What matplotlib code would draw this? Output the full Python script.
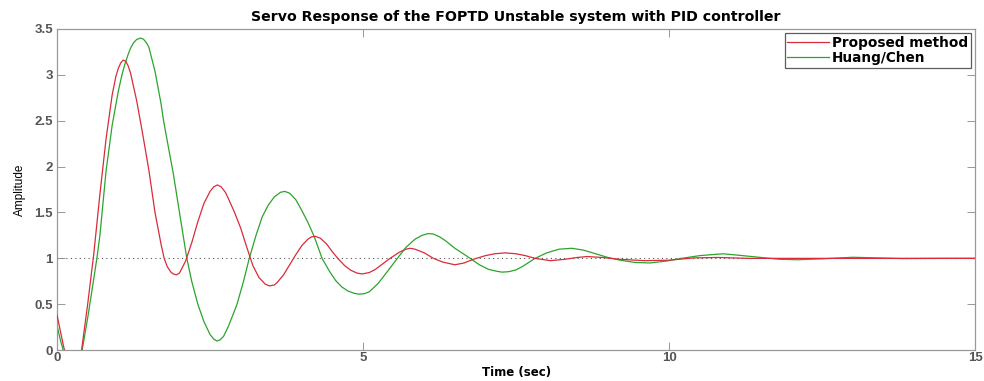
import numpy as np
import matplotlib
matplotlib.use('Agg')
import matplotlib.pyplot as plt

plt.rcParams['font.family'] = ['Liberation Sans', 'DejaVu Sans']

# Proposed method (red)
t_prop = [0.0, 0.05, 0.1, 0.15, 0.2, 0.25, 0.3, 0.35, 0.4, 0.5, 0.6, 0.7, 0.8, 0.9, 0.96,
          1.0, 1.04, 1.08, 1.12, 1.16, 1.2, 1.3, 1.4, 1.5, 1.6, 1.7, 1.75, 1.8, 1.86, 1.9,
          1.95, 2.0, 2.1, 2.2, 2.3, 2.4, 2.5, 2.56, 2.62, 2.68, 2.75, 2.8, 2.9, 3.0, 3.1,
          3.2, 3.3, 3.4, 3.47, 3.55, 3.6, 3.7, 3.8, 3.9, 4.0, 4.1, 4.16, 4.22, 4.3, 4.4,
          4.5, 4.6, 4.7, 4.8, 4.9, 4.98, 5.1, 5.2, 5.3, 5.44, 5.6, 5.7, 5.77, 5.85, 6.0,
          6.15, 6.3, 6.5, 6.65, 6.8, 7.0, 7.15, 7.32, 7.5, 7.65, 7.81, 8.06, 8.3, 8.5,
          8.66, 8.9, 9.2, 9.6, 10.0, 10.4, 10.8, 11.3, 12.0, 13.0, 14.0, 15.0]
y_prop = [0.38, 0.22, 0.06, -0.08, -0.18, -0.22, -0.2, -0.12, 0.0, 0.5, 1.05, 1.7, 2.3, 2.78, 2.98,
          3.07, 3.13, 3.16, 3.15, 3.1, 3.02, 2.72, 2.35, 1.96, 1.5, 1.15, 1.0, 0.91, 0.85, 0.83,
          0.82, 0.84, 0.97, 1.17, 1.4, 1.6, 1.73, 1.78, 1.8, 1.78, 1.72, 1.65, 1.5, 1.33, 1.12,
          0.92, 0.79, 0.72, 0.7, 0.71, 0.74, 0.82, 0.93, 1.04, 1.14, 1.21, 1.235, 1.24, 1.22, 1.16,
          1.07, 0.99, 0.92, 0.87, 0.84, 0.83, 0.845, 0.88, 0.93, 1.0, 1.07, 1.1, 1.11, 1.1, 1.06,
          1.0, 0.96, 0.93, 0.95, 0.99, 1.03, 1.05, 1.06, 1.05, 1.03, 1.0, 0.975, 0.99, 1.01,
          1.02, 1.01, 0.99, 0.975, 0.98, 1.005, 1.01, 1.0, 1.0, 1.0, 1.0, 1.0]

# Huang/Chen (green)
t_hc = [0.0, 0.05, 0.1, 0.15, 0.2, 0.25, 0.3, 0.35, 0.41, 0.5, 0.6, 0.65, 0.7, 0.8, 0.9,
        1.0, 1.06, 1.1, 1.16, 1.2, 1.25, 1.3, 1.36, 1.41, 1.46, 1.5, 1.6, 1.7, 1.74, 1.8,
        1.9, 2.0, 2.12, 2.2, 2.3, 2.4, 2.5, 2.56, 2.61, 2.66, 2.72, 2.8, 2.94, 3.05, 3.14,
        3.25, 3.35, 3.45, 3.55, 3.65, 3.72, 3.8, 3.9, 4.0, 4.1, 4.2, 4.33, 4.45, 4.55, 4.65,
        4.75, 4.85, 4.93, 5.02, 5.1, 5.25, 5.4, 5.56, 5.7, 5.85, 5.96, 6.06, 6.15, 6.25, 6.35,
        6.5, 6.75, 6.9, 7.05, 7.18, 7.27, 7.38, 7.5, 7.6, 7.81, 8.0, 8.2, 8.41, 8.6, 8.8,
        9.0, 9.2, 9.45, 9.69, 9.95, 10.2, 10.5, 10.88, 11.2, 11.5, 11.8, 12.1, 12.5, 13.0,
        13.4, 13.8, 14.5, 15.0]
y_hc = [0.27, 0.12, 0.0, -0.1, -0.17, -0.2, -0.18, -0.1, 0.0, 0.35, 0.78, 1.0, 1.25, 1.95, 2.45,
        2.82, 3.0, 3.1, 3.22, 3.29, 3.35, 3.385, 3.4, 3.39, 3.35, 3.3, 3.04, 2.68, 2.5, 2.28,
        1.92, 1.5, 1.0, 0.75, 0.5, 0.31, 0.17, 0.12, 0.1, 0.11, 0.15, 0.26, 0.5, 0.76, 1.0,
        1.25, 1.45, 1.58, 1.67, 1.72, 1.73, 1.71, 1.64, 1.52, 1.39, 1.24, 1.0, 0.86, 0.76, 0.69,
        0.645, 0.62, 0.61, 0.615, 0.635, 0.73, 0.86, 1.0, 1.12, 1.21, 1.25, 1.27, 1.265, 1.235, 1.19,
        1.11, 1.0, 0.93, 0.88, 0.86, 0.85, 0.855, 0.875, 0.91, 1.0, 1.06, 1.1, 1.11, 1.09, 1.05,
        1.01, 0.98, 0.955, 0.95, 0.97, 1.0, 1.03, 1.05, 1.03, 1.01, 0.99, 0.985, 0.995, 1.012,
        1.005, 0.998, 1.0, 1.0]

x_ticks = [0, 5, 10, 15]
y_ticks = [0, 0.5, 1, 1.5, 2, 2.5, 3, 3.5]
y_tick_labels = ['0', '0.5', '1', '1.5', '2', '2.5', '3', '3.5']

fig = plt.figure(figsize=(9.84, 3.81), dpi=100)
ax = fig.add_axes([0.058, 0.081, 0.933, 0.843])

ax.plot([0, 15], [1, 1], color='#555555', linestyle=(0, (1, 3)), linewidth=0.8, zorder=1)
ax.plot(t_prop, y_prop, color='#d92b3a', linewidth=0.9, label='Proposed method', zorder=3)
ax.plot(t_hc, y_hc, color='#2aa52a', linewidth=0.9, label='Huang/Chen', zorder=2)

ax.set_xlim(0, 15)
ax.set_ylim(0, 3.5)
ax.set_xticks(x_ticks)
ax.set_yticks(y_ticks)
ax.set_yticklabels(y_tick_labels)
ax.tick_params(direction='in', length=5.5, width=0.6, color='#888888',
               top=True, right=True, labelsize=9.5, labelcolor='#555555')
ax.tick_params(axis='x', pad=1.5)
ax.tick_params(axis='y', pad=3)
for lab in ax.get_xticklabels() + ax.get_yticklabels():
    lab.set_fontweight('bold')
for sp in ax.spines.values():
    sp.set_color('#999999')
    sp.set_linewidth(0.9)

ax.set_title('Servo Response of the FOPTD Unstable system with PID controller',
             fontsize=10.2, fontweight='bold', family='DejaVu Sans', pad=6)
ax.set_xlabel('Time (sec)', fontsize=8.5, fontweight='bold', family='DejaVu Sans', labelpad=1)
ax.set_ylabel('Amplitude', fontsize=8.5, labelpad=6)

leg = ax.legend(loc='upper right', prop={'weight': 'bold', 'size': 9.8, 'family': 'DejaVu Sans'},
                frameon=True, fancybox=False, handlelength=3.1, handletextpad=0.2,
                borderpad=0.2, labelspacing=0.1, borderaxespad=0.3)
leg.get_frame().set_edgecolor('#333333')
leg.get_frame().set_linewidth(0.9)

fig.savefig('out.png', dpi=100)
